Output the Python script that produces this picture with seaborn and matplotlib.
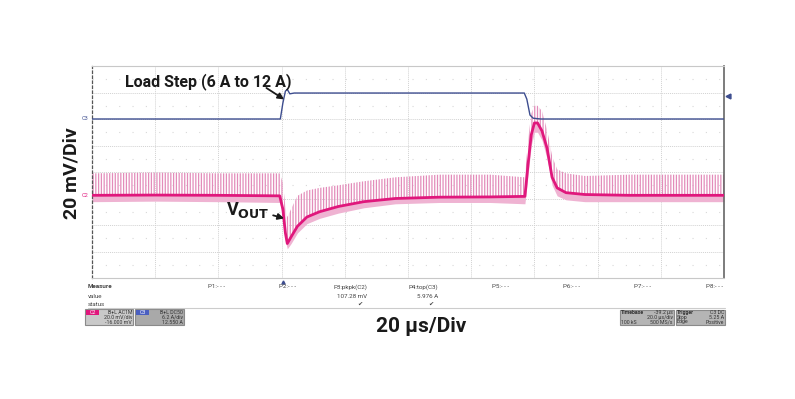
import numpy as np
import pandas as pd
import seaborn as sns
import matplotlib.pyplot as plt
from matplotlib.patches import Rectangle

# scope screen, x in divisions (20 us/div), y in divisions (0 = bottom of screen)
t_vout = [0.0, 1.0, 2.0, 2.97, 3.02, 3.06, 3.09, 3.15, 3.25, 3.4, 3.6, 3.9, 4.3, 4.8, 5.5, 6.3, 6.85,
          6.9, 6.95, 7.0, 7.05, 7.12, 7.2, 7.28, 7.36, 7.5, 7.8, 8.5, 9.3, 10.0]
vout_mid = [3.12, 3.13, 3.12, 3.10, 2.6, 1.7, 1.3, 1.55, 1.95, 2.3, 2.5, 2.7, 2.88, 3.0, 3.05, 3.06, 3.08,
            4.3, 5.4, 5.85, 5.85, 5.55, 4.9, 3.8, 3.4, 3.22, 3.15, 3.12, 3.12, 3.12]
vout_hi = [3.95, 3.98, 3.95, 3.95, 3.6, 2.7, 2.3, 2.6, 3.1, 3.3, 3.4, 3.5, 3.65, 3.8, 3.9, 3.9, 3.8,
           5.2, 6.2, 6.5, 6.5, 6.3, 5.6, 4.6, 4.1, 3.95, 3.85, 3.9, 3.9, 3.9]
vout_lo = [2.88, 2.9, 2.88, 2.85, 2.3, 1.4, 1.1, 1.3, 1.7, 2.05, 2.25, 2.45, 2.65, 2.8, 2.85, 2.85, 2.8,
           3.9, 5.0, 5.5, 5.5, 5.2, 4.5, 3.5, 3.1, 2.95, 2.88, 2.88, 2.88, 2.88]

t_iload = [0.0, 2.98, 3.02, 3.06, 3.09, 3.13, 3.2, 6.84, 6.88, 6.93, 6.98, 7.1, 10.0]
iload = [6.0, 6.0, 6.6, 7.05, 7.12, 6.95, 6.98, 6.98, 6.75, 6.15, 6.03, 6.0, 6.0]

meas_names = ['P1:- - -', 'P2:- - -', 'P3:pkpk(C2)', 'P4:top(C3)', 'P5:- - -', 'P6:- - -', 'P7:- - -', 'P8:- - -']
meas_values = ['', '', '107.28 mV', '5.976 A', '', '', '', '']
meas_status = ['', '', '\u2714', '\u2714', '', '', '', '']

c2_lines = ['B+L AC1M', '20.0 mV/div', '-16.000 mV']
c3_lines = ['B+L DC50', '6.2 A/div', '12.550 A']

pink = '#e0177c'
light_pink = '#efb3d2'
spike_pink = '#e38cba'
blue = '#3d4d8f'

sns.set_style('white')
plt.rcParams['font.family'] = ['Roboto', 'DejaVu Sans']

W, H = 795, 399
fig = plt.figure(figsize=(W / 100, H / 100), dpi=100)


def fx(x):
    return x / W


def fy(y):
    return 1 - y / H


ax = fig.add_axes([fx(92), fy(278), fx(724) - fx(92), fy(66) - fy(278)])
ax.set_xlim(0, 10)
ax.set_ylim(0, 8)

vout = pd.DataFrame({'t': t_vout, 'mid': vout_mid, 'hi': vout_hi, 'lo': vout_lo})
load = pd.DataFrame({'t': t_iload, 'i': iload})

# grid
for gx in range(1, 10):
    ax.axvline(gx, color='#d2d2d2', lw=0.7, ls=(0, (1, 1)), zorder=0)
for gy in range(1, 8):
    ax.axhline(gy, color='#d2d2d2', lw=0.7, ls=(0, (1, 1)), zorder=0)
for gy in np.arange(0.5, 8, 1.0):
    ax.axhline(gy, color='#d8d8d8', lw=0.8, ls=(0, (1, 11)), zorder=0)

# ripple band
plt.rcParams['hatch.linewidth'] = 0.9
plt.rcParams['hatch.color'] = spike_pink
ax.fill_between(vout['t'], vout['lo'], vout['mid'], color=light_pink, lw=0, zorder=1)
ax.fill_between(vout['t'], vout['mid'], vout['hi'], facecolor='none', edgecolor=spike_pink,
                hatch='||||||', lw=0, zorder=1)
sns.lineplot(data=vout, x='t', y='mid', color=pink, lw=2.0, ax=ax, zorder=3)
sns.lineplot(data=load, x='t', y='i', color=blue, lw=1.0, ax=ax, zorder=3)

ax.set_xlabel('')
ax.set_ylabel('')
ax.set_xticks([])
ax.set_yticks([])
for s in ['top', 'bottom']:
    ax.spines[s].set_color('#c8c8c8')
    ax.spines[s].set_linewidth(0.8)
ax.spines['left'].set_color('#555555')
ax.spines['left'].set_linestyle((0, (2, 2)))
ax.spines['left'].set_linewidth(0.9)
ax.spines['right'].set_color('#666666')
ax.spines['right'].set_linewidth(1.2)

# channel markers
ax.text(-0.05, 6.0, 'C3', color=blue, fontsize=4, ha='right', va='center')
ax.text(-0.05, 3.1, 'C2', color=pink, fontsize=4, ha='right', va='center')
ax.plot([10.06], [6.85], marker='<', color=blue, ms=3.5, clip_on=False)

# annotations
ax.text(0.52, 7.4, 'Load Step (6 A to 12 A)', fontsize=11.5, fontweight='bold',
        color='#1a1a1a', va='center', ha='left')
ax.annotate('', xy=(3.04, 6.74), xytext=(2.76, 7.17),
            arrowprops=dict(arrowstyle='-|>', color='#1a1a1a', lw=1.3, mutation_scale=9,
                            shrinkA=0, shrinkB=0))
ax.annotate('V$_{\\mathbf{OUT}}$', xy=(3.04, 2.25), xytext=(2.47, 2.55),
            fontsize=13, fontweight='bold', color='#1a1a1a', va='center', ha='center',
            arrowprops=dict(arrowstyle='-|>', color='#1a1a1a', lw=1.3, mutation_scale=9,
                            shrinkA=0, shrinkB=0, relpos=(1.0, 0.3)))

fig.text(fx(72), fy(173), '20 mV/Div', rotation=90, fontsize=14, fontweight='bold',
         ha='center', va='center', color='#1a1a1a')
fig.text(fx(421), fy(326), '20 \u00b5s/Div', fontsize=15, fontweight='bold',
         ha='center', va='center', color='#1a1a1a')

# measure panel
small = dict(fontsize=4.5, color='#444444', va='center')
fig.text(fx(88), fy(287), 'Measure', fontweight='bold', **small)
fig.text(fx(88), fy(296), 'value', **small)
fig.text(fx(88), fy(304), 'status', **small)
for i, name in enumerate(meas_names):
    xr = 225 + 71.1 * i
    fig.text(fx(xr), fy(287), name, ha='right', **small)
    fig.text(fx(xr), fy(296), meas_values[i], ha='right', **small)
    if meas_status[i]:
        fig.text(fx(xr - 5), fy(304), meas_status[i], ha='right', family='DejaVu Sans',
                 fontsize=4.5, color='#444444', va='center')
fig.add_artist(plt.Line2D([fx(88), fx(725)], [fy(307.5), fy(307.5)], color='#cccccc', lw=0.8))
fig.add_artist(plt.Line2D([fx(283)], [fy(282)], marker='^', color=blue, ms=2.2))

# channel boxes
def box(x0, x1, y0, y1, face='#bdbdbd'):
    fig.add_artist(Rectangle((fx(x0), fy(y1)), fx(x1) - fx(x0), fy(y0) - fy(y1),
                             facecolor=face, edgecolor='#8a8a8a', lw=0.8))


box(85, 133, 309, 325, '#c9c9c9')
box(135, 184, 309, 325, '#a9a9a9')
fig.add_artist(Rectangle((fx(86), fy(315)), fx(99) - fx(86), fy(310) - fy(315),
                         facecolor=pink, edgecolor='none'))
fig.add_artist(Rectangle((fx(136), fy(315)), fx(149) - fx(136), fy(310) - fy(315),
                         facecolor='#4a5fc0', edgecolor='none'))
fig.text(fx(92.5), fy(312.5), 'C2', fontsize=3.8, color='white', ha='center', va='center')
fig.text(fx(142.5), fy(312.5), 'C3', fontsize=3.8, color='white', ha='center', va='center')
tiny = dict(fontsize=3.8, color='#333333', ha='right', va='center')
for j, s in enumerate(c2_lines):
    fig.text(fx(132), fy(312 + 5 * j), s, **tiny)
for j, s in enumerate(c3_lines):
    fig.text(fx(183), fy(312 + 5 * j), s, **tiny)

box(620, 674, 310, 325, '#b5b5b5')
box(676, 725, 310, 325, '#b5b5b5')
fig.text(fx(621), fy(312.5), 'Timebase', fontsize=3.8, fontweight='bold', color='#333333', va='center')
fig.text(fx(673), fy(312.5), '-39.2 \u00b5s', **tiny)
fig.text(fx(673), fy(317.5), '20.0 \u00b5s/div', **tiny)
fig.text(fx(621), fy(322), '100 kS', fontsize=3.8, color='#333333', va='center')
fig.text(fx(673), fy(322), '500 MS/s', **tiny)
fig.text(fx(677), fy(312.5), 'Trigger', fontsize=3.8, fontweight='bold', color='#333333', va='center')
fig.text(fx(724), fy(312.5), 'C3 DC', **tiny)
fig.text(fx(677), fy(317.5), 'Stop', fontsize=3.8, color='#333333', va='center')
fig.text(fx(724), fy(317.5), '5.25 A', **tiny)
fig.text(fx(677), fy(322), 'Edge', fontsize=3.8, color='#333333', va='center')
fig.text(fx(724), fy(322), 'Positive', **tiny)

fig.savefig('out.png', dpi=100)
